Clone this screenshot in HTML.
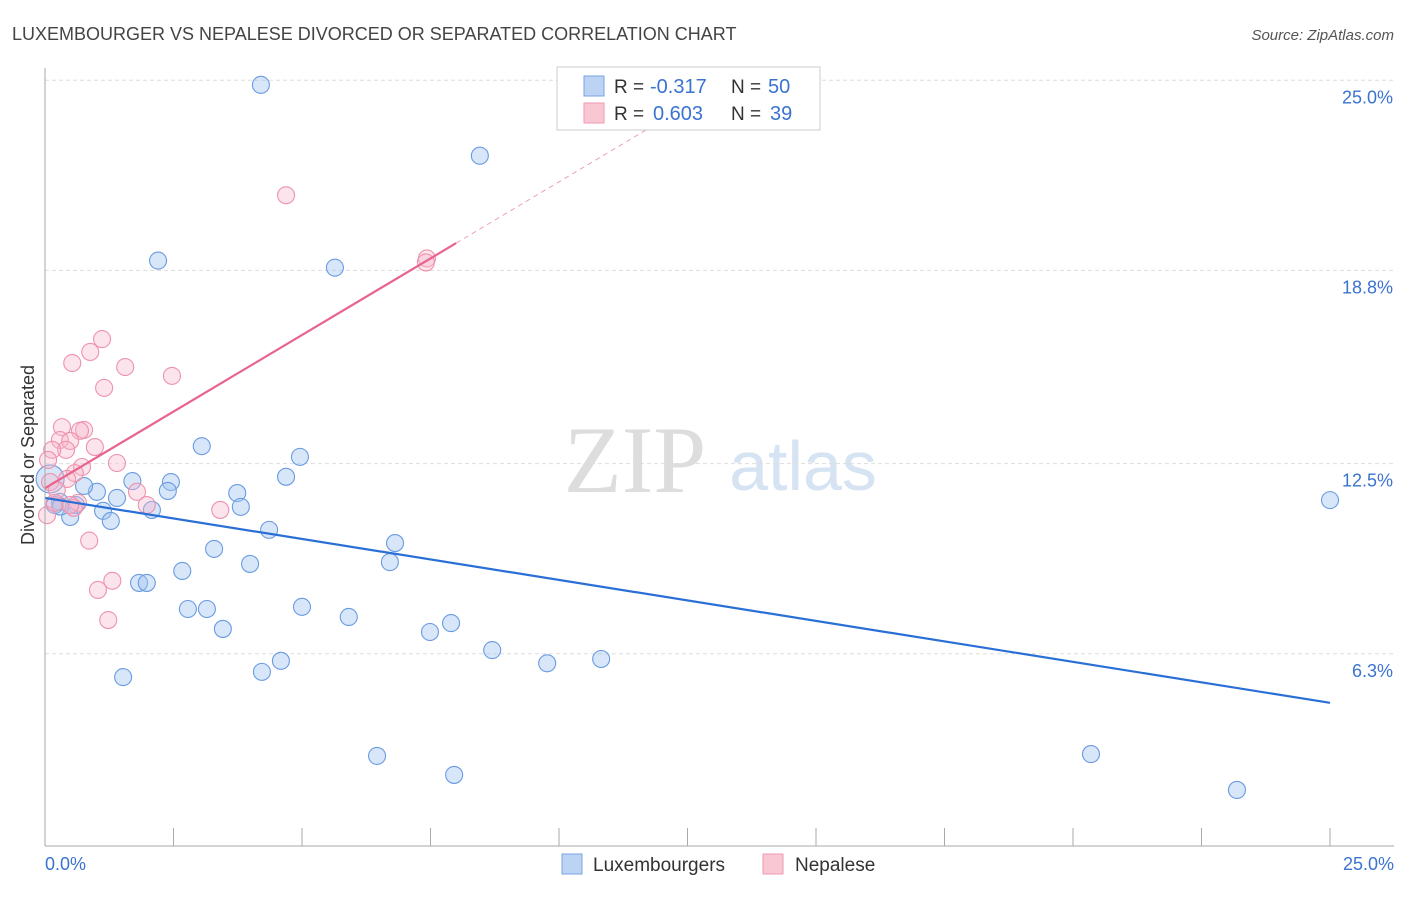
<!DOCTYPE html>
<html><head><meta charset="utf-8"><style>
body{margin:0;background:#fff;font-family:"Liberation Sans",sans-serif}
#c{position:relative;width:1406px;height:892px}
</style></head><body>
<div id="c">
<svg id="svg" width="1406" height="892">
<text x="12" y="40" font-size="18" fill="#444">LUXEMBOURGER VS NEPALESE DIVORCED OR SEPARATED CORRELATION CHART</text>
<text x="1394" y="40" font-size="15" fill="#555" text-anchor="end" font-style="italic">Source: ZipAtlas.com</text>
<text transform="translate(34,455) rotate(-90)" font-size="18" fill="#333" text-anchor="middle">Divorced or Separated</text>
<text x="635" y="492" font-size="95" fill="#ddd" font-family="Liberation Serif,serif" text-anchor="middle">ZIP</text>
<text x="803" y="490" font-size="70" fill="#d6e3f3" text-anchor="middle">atlas</text>
<g id="grid"></g><g id="marks"></g>
<line x1="45" y1="68" x2="45" y2="846" stroke="#aaa"/>
<line x1="45" y1="846" x2="1394" y2="846" stroke="#aaa"/>
<text x="45" y="870" font-size="18" fill="#3b73d0">0.0%</text>
<text x="1394" y="870" font-size="18" fill="#3b73d0" text-anchor="end">25.0%</text>
<g>
<rect x="557" y="67" width="263" height="63" fill="#fff" stroke="#ccc"/>
<rect x="584" y="76" width="20" height="20" fill="#bcd3f3" stroke="#7aa3e0"/>
<rect x="584" y="103" width="20" height="20" fill="#f9c6d4" stroke="#ee9ab3"/>
<text x="614" y="93" font-size="19" fill="#333">R =</text>
<text x="650" y="93" font-size="20" fill="#3b73d0">-0.317</text>
<text x="731" y="93" font-size="19" fill="#333">N =</text>
<text x="768" y="93" font-size="20" fill="#3b73d0">50</text>
<text x="614" y="120" font-size="19" fill="#333">R =</text>
<text x="653" y="120" font-size="20" fill="#3b73d0">0.603</text>
<text x="731" y="120" font-size="19" fill="#333">N =</text>
<text x="770" y="120" font-size="20" fill="#3b73d0">39</text>
</g>
<g>
<rect x="562" y="854" width="20" height="20" fill="#bcd3f3" stroke="#7aa3e0"/>
<text x="593" y="871" font-size="19" fill="#333">Luxembourgers</text>
<rect x="763" y="854" width="20" height="20" fill="#f9c6d4" stroke="#ee9ab3"/>
<text x="795" y="871" font-size="19" fill="#333">Nepalese</text>
</g>
</svg></div>
<script>
const yTicks=[25.0,18.8,12.5,6.3];
const yTickLabels=["25.0%","18.8%","12.5%","6.3%"];
const xTicks=[0,2.5,5,7.5,10,12.5,15,17.5,20,22.5,25];
const luxX=[4.2,8.46,2.2,5.64,3.05,4.96,4.69,1.7,2.45,2.39,1.01,0.76,1.4,3.74,3.81,2.08,0.29,0.19,0.6,1.13,1.28,0.49,4.36,6.81,3.29,6.71,3.99,2.67,1.83,1.98,2.78,3.15,5.0,5.91,3.46,7.49,7.9,8.7,9.77,10.82,4.59,4.22,1.52,6.46,7.96,20.35,23.19,25.0,0.1,0.3];
const luxY=[24.85,22.54,19.12,18.89,13.07,12.72,12.07,11.93,11.9,11.61,11.58,11.77,11.38,11.54,11.09,10.99,11.25,11.15,11.15,10.96,10.63,10.76,10.34,9.91,9.72,9.29,9.23,9.0,8.61,8.61,7.76,7.76,7.83,7.5,7.11,7.01,7.3,6.42,5.99,6.13,6.07,5.71,5.54,2.97,2.35,3.03,1.86,11.31,12.0,11.1];
const nepX=[4.69,7.43,7.41,1.11,0.88,0.53,1.56,2.47,1.15,0.33,0.76,0.68,0.29,0.49,0.97,0.41,0.14,0.06,1.4,0.72,0.58,0.43,0.1,0.23,1.79,0.64,1.98,3.41,0.56,0.04,0.19,0.86,1.31,1.03,1.23,0.49];
const nepY=[21.25,19.19,19.06,16.56,16.14,15.78,15.65,15.36,14.97,13.69,13.6,13.57,13.27,13.24,13.04,12.95,12.95,12.62,12.52,12.39,12.19,12.0,11.9,11.64,11.58,11.22,11.15,10.99,11.06,10.82,11.22,9.99,8.68,8.38,7.4,11.15];
const luxTrend=[11.38,4.70];
const nepTrend=[11.7,19.69];
const X=v=>45+v*51.4, Y=v=>847-v*30.67;
const NS="http://www.w3.org/2000/svg";
const grid=document.getElementById('grid'), marks=document.getElementById('marks');
function mk(t,a,p){const e=document.createElementNS(NS,t);for(const k in a)e.setAttribute(k,a[k]);p.appendChild(e);return e;}
yTicks.forEach((t,i)=>{
 const l=mk('line',{x1:45,x2:1394,y1:Y(t),y2:Y(t),stroke:'#ddd','stroke-dasharray':'4,3'},grid);
 
 
 const tx=mk('text',{x:1393,y:Y(t)+23,'font-size':18,fill:'#3b73d0','text-anchor':'end'},grid);
 tx.textContent=yTickLabels[i];
 
 
});
xTicks.forEach(t=>{
 const l=mk('line',{x1:X(t),x2:X(t),y1:828,y2:846,stroke:'#aaa'},grid);
 
 
});
luxX.forEach((x,i)=>{
 const c=mk('circle',{cx:X(x),cy:Y(luxY[i]),r:i==48?14:8.5,fill:'rgba(160,195,240,0.42)',stroke:'#6a9be0','stroke-width':1.1},marks);
 
 
});
nepX.forEach((x,i)=>{
 const c=mk('circle',{cx:X(x),cy:Y(nepY[i]),r:8.5,fill:'rgba(248,185,205,0.38)',stroke:'#ee92ad','stroke-width':1.1},marks);
 
 
});
const lt=mk('line',{x1:X(0),y1:Y(luxTrend[0]),x2:X(25),y2:Y(luxTrend[1]),stroke:'#2a6fd6','stroke-width':2.2},marks);


const sl=(nepTrend[1]-nepTrend[0])/8;
const np=mk('line',{x1:X(0),y1:Y(nepTrend[0]),x2:X(8),y2:Y(nepTrend[1]),stroke:'#e8648f','stroke-width':2.2},marks);


const nd=mk('line',{x1:X(8),y1:Y(nepTrend[1]),x2:X(13),y2:Y(nepTrend[0]+sl*13),stroke:'#eea0b8','stroke-width':1,'stroke-dasharray':'5,4'},marks);


</script>
</body></html>
